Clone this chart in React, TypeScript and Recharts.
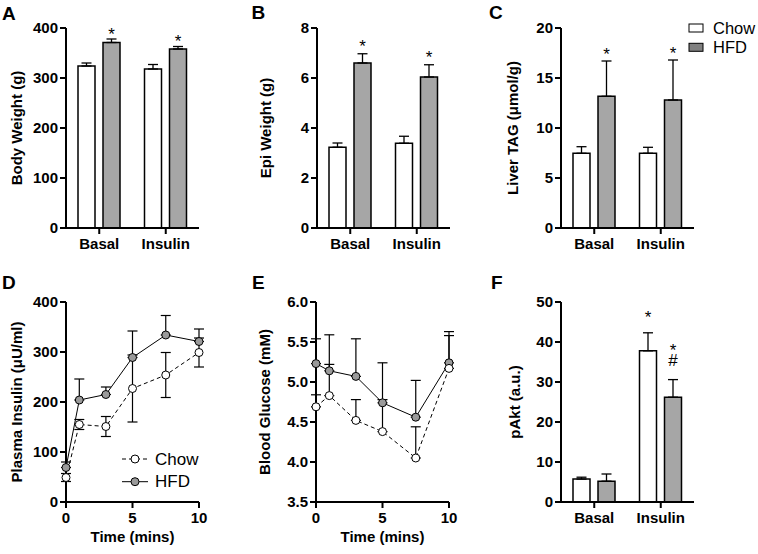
import React from 'react';
import { BarChart, Bar, LineChart, Line, XAxis, YAxis, ErrorBar, LabelList, Legend } from 'recharts';

const FONT = '"Liberation Sans", Arial, Helvetica, sans-serif';
const GREY = '#a6a6a6';
const DOT_GREY = '#9a9a9a';

// categories
const groups = ['Basal', 'Insulin'];
const seriesNames = ['Chow', 'HFD'];

// A: body weight (g)
const bodyChow = [324, 318];
const bodyChowSem = [6, 9];
const bodyHfd = [371, 358];
const bodyHfdSem = [7, 5];

// B: epi weight (g)
const epiChow = [3.23, 3.39];
const epiChowSem = [0.17, 0.28];
const epiHfd = [6.6, 6.04];
const epiHfdSem = [0.37, 0.49];

// C: liver TAG
const tagChow = [7.47, 7.47];
const tagChowSem = [0.66, 0.6];
const tagHfd = [13.17, 12.8];
const tagHfdSem = [3.53, 4.0];

// F: pAkt
const aktChow = [5.73, 37.8];
const aktChowSem = [0.47, 4.5];
const aktHfd = [5.2, 26.2];
const aktHfdSem = [1.8, 4.4];

// significance marks
const starsHfd = ['*', '*'];
const noMarks = ['', ''];
const aktChowMarks = ['', '*'];
const aktHfdMarks = ['', '*#'];

// D / E: time course
const times = [0, 1, 3, 5, 7.5, 10];
const insulinChow = [49, 155, 151, 227, 254, 299];
const insulinChowSem = [8, 10, 20, 67, 45, 29];
const insulinHfd = [69, 204, 215, 289, 334, 321];
const insulinHfdSem = [11, 42, 15, 53, 39, 25];
const glucoseChow = [4.69, 4.83, 4.52, 4.38, 4.05, 5.17];
const glucoseChowSem = [0.15, 0.39, 0.26, 0.4, 0.39, 0.41];
const glucoseHfd = [5.23, 5.14, 5.07, 4.74, 4.56, 5.24];
const glucoseHfdSem = [0.31, 0.45, 0.47, 0.5, 0.46, 0.39];

const makeBarRows = (chow: number[], chowSem: number[], hfd: number[], hfdSem: number[], chowMarks: string[], hfdMarks: string[]) =>
  groups.map((g, i) => ({
    name: g,
    chow: chow[i],
    hfd: hfd[i],
    chowErr: [0, chowSem[i]],
    hfdErr: [0, hfdSem[i]],
    chowMark: chowMarks[i],
    hfdMark: hfdMarks[i],
  }));

const makeLineRows = (chow: number[], chowSem: number[], hfd: number[], hfdSem: number[], chowUpOnly: boolean) =>
  times.map((t, i) => ({
    t,
    chow: chow[i],
    hfd: hfd[i],
    chowErr: chowUpOnly ? [0, chowSem[i]] : [chowSem[i], chowSem[i]],
    hfdErr: [0, hfdSem[i]],
  }));

const axisLine = { stroke: '#000', strokeWidth: 2 };
const tickFont = { fill: '#000', fontSize: 15, fontWeight: 'bold', fontFamily: FONT };
const titleStyle = { textAnchor: 'middle', fontSize: 15, fontWeight: 'bold', fill: '#000', fontFamily: FONT } as any;

// stars / hashes drawn above the error bar cap
const markRenderer = (rows: any[], key: string, gap: number) => (props: any) => {
  const vb = props.viewBox || {};
  const x = props.x ?? vb.x;
  const y = props.y ?? vb.y;
  const width = props.width ?? vb.width;
  const height = props.height ?? vb.height;
  const row = rows[props.index];
  if (!row) return null;
  const text: string = row[key + 'Mark'];
  if (!text) return null;
  const val = row[key];
  const err = row[key + 'Err'][1];
  const top = y - err * (Math.abs(height) / val);
  const cx = x + width / 2;
  const chars = text.split('');
  const first = top - gap - (chars.length - 1) * 14;
  return (
    <text x={cx} y={first + (chars[0] === '*' ? 0.62 : 0.36) * 17} textAnchor="middle" fontSize={17} fontFamily={FONT} fill="#000">
      {chars.map((c, k) => (
        <tspan key={k} x={cx} dy={k === 0 ? 0 : 14 + (c === '*' ? 0.62 : 0.36) * 17 - (chars[k - 1] === '*' ? 0.62 : 0.36) * 17}>
          {c}
        </tspan>
      ))}
    </text>
  );
};

const BarLegend = () => (
  <svg width={70} height={40}>
    {seriesNames.map((s, i) => (
      <g key={s}>
        <rect x={1} y={6 + i * 19.3} width={14} height={8} fill={i === 0 ? '#fff' : '#808080'} stroke="#000" strokeWidth={1} />
        <text x={25} y={10 + i * 19.3} dominantBaseline="central" fontSize={16.5} fontFamily={FONT} fill="#000">
          {s}
        </text>
      </g>
    ))}
  </svg>
);

const LineLegend = () => (
  <svg width={80} height={45}>
    {seriesNames.map((s, i) => (
      <g key={s}>
        <line x1={0} x2={26} y1={10 + i * 22.7} y2={10 + i * 22.7} stroke="#000" strokeWidth={1} strokeDasharray={i === 0 ? '4 3' : undefined} />
        <circle cx={13} cy={10 + i * 22.7} r={4} fill={i === 0 ? '#fff' : DOT_GREY} stroke="#000" strokeWidth={1} />
        <text x={33} y={10 + i * 22.7} dominantBaseline="central" fontSize={17} fontFamily={FONT} fill="#000">
          {s}
        </text>
      </g>
    ))}
  </svg>
);

function BarPanel({ left, top, rows, domain, ticks, yLabel, labelOffset, gap, legend, marginTop }: any) {
  return (
    <div style={{ position: 'absolute', left, top }}>
      <BarChart
        width={legend ? 258 : 198}
        height={marginTop + 240}
        data={rows}
        margin={{ top: marginTop, right: legend ? 65 : 5, bottom: 0, left: 0 }}
        barSize={17}
        barGap={8}
      >
        <XAxis dataKey="name" axisLine={axisLine} tickLine={axisLine} tick={tickFont} tickSize={6} tickMargin={4} height={40} interval={0} />
        <YAxis
          width={60}
          domain={domain}
          ticks={ticks}
          interval={0}
          axisLine={axisLine}
          tickLine={axisLine}
          tick={tickFont}
          tickSize={6}
          tickMargin={2}
          label={{ value: yLabel, angle: -90, position: 'insideLeft', offset: labelOffset, style: titleStyle }}
        />
        <Bar dataKey="chow" fill="#fff" stroke="#000" strokeWidth={1.5} isAnimationActive={false}>
          <ErrorBar dataKey="chowErr" width={5} stroke="#000" strokeWidth={1.3} direction="y" />
          <LabelList dataKey="chowMark" content={markRenderer(rows, 'chow', gap)} />
        </Bar>
        <Bar dataKey="hfd" fill={GREY} stroke="#000" strokeWidth={1.5} isAnimationActive={false}>
          <ErrorBar dataKey="hfdErr" width={5} stroke="#000" strokeWidth={1.3} direction="y" />
          <LabelList dataKey="hfdMark" content={markRenderer(rows, 'hfd', gap)} />
        </Bar>
        {legend && (
          <Legend layout="horizontal" verticalAlign="middle" align="center" wrapperStyle={{ left: 187, top: 18, width: 70, height: 40 }} content={<BarLegend />} />
        )}
      </BarChart>
    </div>
  );
}

function LinePanel({ left, rows, domain, ticks, yLabel, labelOffset, order, legend, decimals }: any) {
  return (
    <div style={{ position: 'absolute', left, top: 270 }}>
      <LineChart width={208} height={277} data={rows} margin={{ top: 32, right: 15, bottom: 0, left: 0 }}>
        <XAxis
          dataKey="t"
          type="number"
          domain={[0, 10]}
          ticks={[0, 5, 10]}
          interval={0}
          axisLine={axisLine}
          tickLine={axisLine}
          tick={tickFont}
          tickSize={6}
          tickMargin={4}
          height={45}
          label={{ value: 'Time (mins)', position: 'insideBottom', offset: 5, style: titleStyle }}
        />
        <YAxis
          width={60}
          domain={domain}
          ticks={ticks}
          interval={0}
          allowDataOverflow
          axisLine={axisLine}
          tickLine={axisLine}
          tick={tickFont}
          tickSize={6}
          tickMargin={2}
          tickFormatter={(v: number) => v.toFixed(decimals)}
          label={{ value: yLabel, angle: -90, position: 'insideLeft', offset: labelOffset, style: titleStyle }}
        />
        {order.map((s: string) => (
          <Line
            key={s}
            dataKey={s}
            stroke="#000"
            strokeWidth={1}
            strokeDasharray={s === 'chow' ? '4 3' : undefined}
            dot={{ r: 4, fill: s === 'chow' ? '#fff' : DOT_GREY, stroke: '#000', strokeWidth: 1, strokeDasharray: '' }}
            isAnimationActive={false}
          >
            <ErrorBar dataKey={s + 'Err'} width={5} stroke="#000" strokeWidth={1.2} direction="y" />
          </Line>
        ))}
        {legend && (
          <Legend layout="horizontal" verticalAlign="middle" align="center" wrapperStyle={{ left: 116, top: 179, width: 80, height: 45 }} content={<LineLegend />} />
        )}
      </LineChart>
    </div>
  );
}

const letters = [
  { t: 'A', x: 2, y: 19.5 },
  { t: 'B', x: 251.5, y: 18.5 },
  { t: 'C', x: 489, y: 19 },
  { t: 'D', x: 2, y: 288.5 },
  { t: 'E', x: 252, y: 289 },
  { t: 'F', x: 491, y: 289 },
];

export default function App() {
  const rowsA = makeBarRows(bodyChow, bodyChowSem, bodyHfd, bodyHfdSem, noMarks, starsHfd);
  const rowsB = makeBarRows(epiChow, epiChowSem, epiHfd, epiHfdSem, noMarks, starsHfd);
  const rowsC = makeBarRows(tagChow, tagChowSem, tagHfd, tagHfdSem, noMarks, starsHfd);
  const rowsF = makeBarRows(aktChow, aktChowSem, aktHfd, aktHfdSem, aktChowMarks, aktHfdMarks);
  const rowsD = makeLineRows(insulinChow, insulinChowSem, insulinHfd, insulinHfdSem, false);
  const rowsE = makeLineRows(glucoseChow, glucoseChowSem, glucoseHfd, glucoseHfdSem, true);

  return (
    <div style={{ position: 'absolute', left: 0, top: 0, width: 758, height: 554, background: '#fff', overflow: 'hidden' }}>
      <BarPanel left={6} top={0} marginTop={28} rows={rowsA} domain={[0, 400]} ticks={[0, 100, 200, 300, 400]} yLabel="Body Weight (g)" labelOffset={10.7} gap={10} />
      <BarPanel left={256.7} top={0} marginTop={28} rows={rowsB} domain={[0, 8]} ticks={[0, 2, 4, 6, 8]} yLabel="Epi Weight (g)" labelOffset={8.3} gap={12} />
      <BarPanel left={501} top={0} marginTop={28} rows={rowsC} domain={[0, 20]} ticks={[0, 5, 10, 15, 20]} yLabel="Liver TAG (μmol/g)" labelOffset={12} gap={12} legend />
      <LinePanel left={5.7} rows={rowsD} domain={[0, 400]} ticks={[0, 100, 200, 300, 400]} yLabel="Plasma Insulin (μU/ml)" labelOffset={11} order={['chow', 'hfd']} legend decimals={0} />
      <LinePanel left={256.3} rows={rowsE} domain={[3.5, 6]} ticks={[3.5, 4, 4.5, 5, 5.5, 6]} yLabel="Blood Glucose (mM)" labelOffset={8.3} order={['hfd', 'chow']} decimals={1} />
      <BarPanel left={501} top={270} marginTop={32} rows={rowsF} domain={[0, 50]} ticks={[0, 10, 20, 30, 40, 50]} yLabel="pAkt (a.u.)" labelOffset={14} gap={20} />
      <svg width={758} height={554} style={{ position: 'absolute', left: 0, top: 0, pointerEvents: 'none' }}>
        {letters.map((l) => (
          <text key={l.t} x={l.x} y={l.y} fontSize={19} fontWeight="bold" fontFamily={FONT} fill="#000">
            {l.t}
          </text>
        ))}
      </svg>
    </div>
  );
}
